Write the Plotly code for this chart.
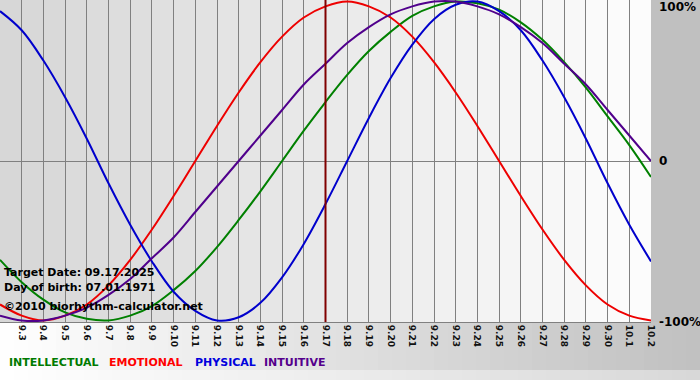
import plotly.graph_objects as go

# ---- data ----
dates = ["9.2", "9.3", "9.4", "9.5", "9.6", "9.7", "9.8", "9.9", "9.10", "9.11",
         "9.12", "9.13", "9.14", "9.15", "9.16", "9.17", "9.18", "9.19", "9.20",
         "9.21", "9.22", "9.23", "9.24", "9.25", "9.26", "9.27", "9.28", "9.29",
         "9.30", "10.1", "10.2"]
intellectual = [-0.62, -0.76, -0.87, -0.95, -0.99, -1.00, -0.97, -0.91, -0.81, -0.69,
                -0.54, -0.37, -0.19, 0.00, 0.19, 0.37, 0.54, 0.69, 0.81, 0.91,
                0.97, 1.00, 0.99, 0.95, 0.87, 0.76, 0.62, 0.46, 0.28, 0.10, -0.10]
emotional = [-0.90, -0.97, -1.00, -0.97, -0.90, -0.78, -0.62, -0.43, -0.22, 0.00,
             0.22, 0.43, 0.62, 0.78, 0.90, 0.97, 1.00, 0.97, 0.90, 0.78,
             0.62, 0.43, 0.22, 0.00, -0.22, -0.43, -0.62, -0.78, -0.90, -0.97, -1.00]
physical = [0.94, 0.82, 0.63, 0.40, 0.14, -0.14, -0.40, -0.63, -0.82, -0.94,
            -1.00, -0.98, -0.89, -0.73, -0.52, -0.27, 0.00, 0.27, 0.52, 0.73,
            0.89, 0.98, 1.00, 0.94, 0.82, 0.63, 0.40, 0.14, -0.14, -0.40, -0.63]
intuitive = [-0.97, -1.00, -1.00, -0.97, -0.92, -0.84, -0.74, -0.61, -0.48, -0.32,
             -0.16, 0.00, 0.16, 0.32, 0.48, 0.61, 0.74, 0.84, 0.92, 0.97,
             1.00, 1.00, 0.97, 0.92, 0.84, 0.74, 0.61, 0.48, 0.32, 0.16, 0.00]
series_names = ["INTELLECTUAL", "EMOTIONAL", "PHYSICAL", "INTUITIVE"]
target_date = "9.17"
info_lines = ["Target Date: 09.17.2025", "Day of birth: 07.01.1971",
              "\u00a92010 biorhythm-calculator.net"]
y_labels = ["100%", "0", "-100%"]
y_label_vals = [1, 0, -1]

line_colors = ["#008000", "#ee0000", "#0000cc", "#50008c"]
legend_colors = ["#007a00", "#ff0000", "#0000dd", "#55008c"]

W, H = 700, 380
ML, MR, MT, MB = 0, 49, 0, 58
PW, PH = W - ML - MR, H - MT - MB

def px_x(px):
    return (px - ML) / PW

def px_y(py):
    return (H - MB - py) / PH

def mix(c1, c2, t):
    return "#%02x%02x%02x" % tuple(int(round(a + (b - a) * t)) for a, b in zip(c1, c2))

x = list(range(len(dates)))
fig = go.Figure()
for name, vals, col in zip(series_names, [intellectual, emotional, physical, intuitive], line_colors):
    fig.add_trace(go.Scatter(x=x, y=vals, mode="lines", name=name, hoverinfo="skip",
                             line=dict(color=col, width=2, shape="spline", smoothing=1)))

shapes = []
# plot-area gradient (one band per day column)
n = len(dates) - 1
for i in range(n):
    shapes.append(dict(type="rect", xref="x", yref="y domain", x0=i, x1=i + 1, y0=0, y1=1,
                       fillcolor=mix((0xd6, 0xd6, 0xd6), (0xfd, 0xfd, 0xfd), (i + 0.5) / n),
                       line=dict(width=0), layer="below"))
# right gray column
shapes.append(dict(type="rect", xref="paper", yref="paper", x0=1, x1=px_x(W), y0=px_y(370), y1=1,
                   fillcolor="#c0c0c0", line=dict(width=0), layer="below"))
# bottom gradient band
steps = 50
for i in range(steps):
    t = (i + 0.5) / steps
    shapes.append(dict(type="rect", xref="paper", yref="paper",
                       x0=px_x(W * i / steps), x1=px_x(W * (i + 1) / steps) + 0.002,
                       y0=px_y(370), y1=0,
                       fillcolor=mix((0xff, 0xff, 0xff), (0xc0, 0xc0, 0xc0), t),
                       line=dict(width=0), layer="below"))
    shapes.append(dict(type="rect", xref="paper", yref="paper",
                       x0=px_x(W * i / steps), x1=px_x(W * (i + 1) / steps) + 0.002,
                       y0=px_y(H), y1=px_y(370),
                       fillcolor=mix((0xff, 0xff, 0xff), (0xd8, 0xd8, 0xd8), t),
                       line=dict(width=0), layer="below"))
# target date marker
ti = dates.index(target_date)
shapes.append(dict(type="line", xref="x", yref="y domain", x0=ti, x1=ti, y0=0, y1=1,
                   line=dict(color="#800000", width=2), layer="above"))

annotations = []
for i, txt in enumerate(info_lines):
    annotations.append(dict(text=txt, xref="paper", yref="paper", x=px_x(2),
                            y=px_y([272, 287, 306][i]), xanchor="left", yanchor="middle",
                            showarrow=False,
                            font=dict(family="DejaVu Sans", size=11, color="#000000", weight="bold")))
for lab, v in zip(y_labels, y_label_vals):
    py = {1: 7, 0: 161, -1: 322}[v]
    annotations.append(dict(text=lab, xref="paper", yref="paper", x=px_x(657), y=px_y(py),
                            xanchor="left", yanchor="middle", showarrow=False,
                            font=dict(family="DejaVu Sans", size=12, color="#000000", weight="bold")))
leg_x = [7, 107, 193, 262]
for name, col, lx in zip(series_names, legend_colors, leg_x):
    annotations.append(dict(text=name, xref="paper", yref="paper", x=px_x(lx), y=px_y(362),
                            xanchor="left", yanchor="middle", showarrow=False,
                            font=dict(family="DejaVu Sans", size=11, color=col, weight="bold")))

fig.update_layout(
    width=W, height=H,
    margin=dict(l=ML, r=MR, t=MT, b=MB, pad=0),
    paper_bgcolor="#ffffff", plot_bgcolor="rgba(0,0,0,0)",
    showlegend=False, hovermode=False,
    shapes=shapes, annotations=annotations,
    xaxis=dict(range=[0, len(dates) - 1], tickmode="array", tickvals=x, ticktext=dates,
               tickangle=90, showgrid=True, gridcolor="#808080", gridwidth=1,
               showline=True, linecolor="#808080", linewidth=1, mirror=True,
               zeroline=False, ticks="", ticklabelstandoff=0,
               tickfont=dict(family="DejaVu Sans", size=9, color="#111111", weight="bold")),
    yaxis=dict(range=[-1.01, 1.01], showgrid=False, zeroline=True, zerolinecolor="#808080",
               zerolinewidth=1, showticklabels=False, ticks="", showline=False),
)

fig.write_html("out.html", config={"displayModeBar": False},
               post_script="document.body.style.margin='0';document.body.style.padding='0';")
